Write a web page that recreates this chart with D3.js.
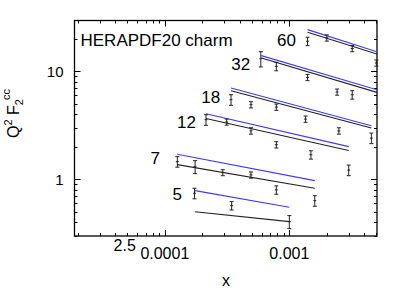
<!DOCTYPE html>
<html>
<head>
<meta charset="utf-8">
<script src="https://cdn.jsdelivr.net/npm/d3@7"></script>
<style>
  html, body { margin: 0; padding: 0; background: #fff; }
  svg { display: block; font-family: "Liberation Sans", Arial, Helvetica, sans-serif; }
</style>
</head>
<body>
<svg id="chart" width="417" height="292"></svg>
<script>
// ---------- data ----------
const seriesLabels = ["5", "7", "12", "18", "32", "60"];
const pointX = [
  [1.73e-4, 3.44e-4, 1.0e-3],
  [1.26e-4, 1.75e-4, 2.92e-4, 4.92e-4, 7.86e-4, 1.6e-3],
  [2.14e-4, 3.14e-4, 4.92e-4, 7.86e-4, 1.49e-3, 3.0e-3],
  [3.4e-4, 4.92e-4, 7.86e-4, 1.35e-3, 2.5e-3, 4.56e-3],
  [5.9e-4, 7.86e-4, 1.4e-3, 2.42e-3, 3.2e-3],
  [1.4e-3, 2.0e-3, 3.2e-3, 5.0e-3]
];
const pointY = [
  [0.745, 0.572, 0.407],
  [1.46, 1.31, 1.156, 1.10, 0.80, 0.636],
  [3.56, 3.39, 2.81, 2.09, 1.69, 1.22],
  [5.45, 4.90, 4.66, 3.61, 2.81, 2.41],
  [13.05, 11.08, 8.76, 6.42, 6.06],
  [18.9, 20.3, 16.2, 11.9]
];
const pointErr = [
  [0.083, 0.051, 0.056],
  [0.163, 0.18, 0.074, 0.073, 0.071, 0.071],
  [0.40, 0.22, 0.19, 0.14, 0.15, 0.137],
  [0.61, 0.32, 0.31, 0.24, 0.19, 0.27],
  [2.1, 0.99, 0.58, 0.42, 0.54],
  [1.68, 1.34, 1.07, 0.79]
];
const curveX = [
  [1.75e-4, 1.0e-3],
  [1.26e-4, 1.6e-3],
  [2.14e-4, 3.0e-3],
  [3.4e-4, 4.56e-3],
  [5.96e-4, 5.06e-3],
  [1.4e-3, 5.06e-3]
];
const curveBlack = [
  [0.503, 0.407],
  [1.37, 0.829],
  [3.66, 1.85],
  [6.60, 2.98],
  [13.25, 6.37],
  [22.9, 14.4]
];
const curveBlue = [
  [0.788, 0.553],
  [1.71, 0.975],
  [4.04, 2.01],
  [6.99, 3.13],
  [13.92, 6.74],
  [24.2, 15.1]
];
const labelX = [1.37e-4, 9.15e-5, 1.78e-4, 2.78e-4, 4.84e-4, 1.13e-3];
const labelY = [0.646, 1.39, 3.0, 5.11, 10.3, 17.2];
const xMajor = [1e-4, 1e-3];
const xMajorText = ["0.0001", "0.001"];
const yMajor = [1, 10];
const yMajorText = ["1", "10"];

// ---------- layout ----------
const L = 74.5, R = 377, T = 20.5, B = 236;
const x = d3.scaleLog().domain([1.88e-5, 5.06e-3]).range([L, R]);
const y = d3.scaleLog().domain([0.3, 29.4]).range([B, T]);

const svg = d3.select("#chart");
svg.append("defs").append("clipPath").attr("id", "clip")
  .append("rect").attr("x", L).attr("y", T).attr("width", R - L).attr("height", B - T);

// ticks
const xMinor = [];
for (let e = -5; e <= -3; e++) for (let m = 2; m <= 9; m++) {
  const v = m * Math.pow(10, e);
  if (v > x.domain()[0] && v < x.domain()[1]) xMinor.push(v);
}
const yMinor = [];
for (let e = -1; e <= 1; e++) for (let m = 2; m <= 9; m++) {
  const v = m * Math.pow(10, e);
  if (v > y.domain()[0] && v < y.domain()[1]) yMinor.push(v);
}
const tickG = svg.append("g").attr("stroke", "#000").attr("stroke-width", 1);
xMinor.concat(xMajor).forEach(v => {
  const len = xMajor.includes(v) ? 6 : 3;
  const px = Math.round(x(v)) + 0.5;
  tickG.append("line").attr("x1", px).attr("x2", px).attr("y1", B).attr("y2", B - len);
  tickG.append("line").attr("x1", px).attr("x2", px).attr("y1", T).attr("y2", T + len);
});
yMinor.concat(yMajor).forEach(v => {
  const len = yMajor.includes(v) ? 6 : 3;
  const py = Math.round(y(v)) + 0.5;
  tickG.append("line").attr("x1", L).attr("x2", L + len).attr("y1", py).attr("y2", py);
  tickG.append("line").attr("x1", R).attr("x2", R - len).attr("y1", py).attr("y2", py);
});

// frame
svg.append("rect").attr("x", L).attr("y", T).attr("width", R - L).attr("height", B - T)
  .attr("fill", "none").attr("stroke", "#000").attr("stroke-width", 1.3);

// curves
const plotG = svg.append("g").attr("clip-path", "url(#clip)");
const line = d3.line().x(d => x(d[0])).y(d => y(d[1]));
curveX.forEach((xs, i) => {
  plotG.append("path").attr("d", line(xs.map((v, j) => [v, curveBlue[i][j]])))
    .attr("fill", "none").attr("stroke", "#3a3aff").attr("stroke-width", 1.1);
  plotG.append("path").attr("d", line(xs.map((v, j) => [v, curveBlack[i][j]])))
    .attr("fill", "none").attr("stroke", "#222").attr("stroke-width", 1.1);
});

// data points with error bars
const ptG = svg.append("g").attr("stroke", "#222").attr("stroke-width", 1);
pointX.forEach((xs, i) => {
  xs.forEach((xv, j) => {
    const cx = x(xv), yv = pointY[i][j], e = pointErr[i][j];
    const y0 = y(yv + e), y1 = y(yv - e), cy = y(yv);
    ptG.append("line").attr("x1", cx).attr("x2", cx).attr("y1", y0).attr("y2", y1);
    ptG.append("line").attr("x1", cx - 2).attr("x2", cx + 2).attr("y1", y0).attr("y2", y0);
    ptG.append("line").attr("x1", cx - 2).attr("x2", cx + 2).attr("y1", y1).attr("y2", y1);
    ptG.append("line").attr("x1", cx - 1.5).attr("x2", cx + 1.5).attr("y1", cy).attr("y2", cy);
  });
});

// series labels
seriesLabels.forEach((t, i) => {
  svg.append("text").attr("x", x(labelX[i])).attr("y", y(labelY[i]))
    .attr("text-anchor", "end").attr("font-size", 17).attr("fill", "#000").text(t);
});

// title inside
svg.append("text").attr("x", 80.5).attr("y", 46).attr("font-size", 17).attr("fill", "#000")
  .text("HERAPDF20 charm");

// axis labels
yMajor.forEach((v, i) => {
  svg.append("text").attr("x", 63.5).attr("y", y(v) + 5.5).attr("text-anchor", "end")
    .attr("font-size", 15).text(yMajorText[i]);
});
xMajor.forEach((v, i) => {
  svg.append("text").attr("x", x(v)).attr("y", 259).attr("text-anchor", "middle")
    .attr("font-size", 16).text(xMajorText[i]);
});
svg.append("text").attr("x", 124.7).attr("y", 251).attr("text-anchor", "middle")
  .attr("font-size", 16).text("2.5");
svg.append("text").attr("x", 226).attr("y", 285.5).attr("text-anchor", "middle")
  .attr("font-size", 16).text("x");

// y title
const yt = svg.append("text").attr("transform", "translate(19,138) rotate(-90)")
  .attr("font-size", 16).attr("text-anchor", "start");
yt.append("tspan").text("Q");
yt.append("tspan").attr("font-size", 11).attr("dy", -7).text("2");
yt.append("tspan").attr("dy", 7).text(" F");
yt.append("tspan").attr("font-size", 11).attr("dy", 4).text("2");
yt.append("tspan").attr("font-size", 11).attr("dy", -13).attr("dx", -1).text("cc");
</script>
</body>
</html>
